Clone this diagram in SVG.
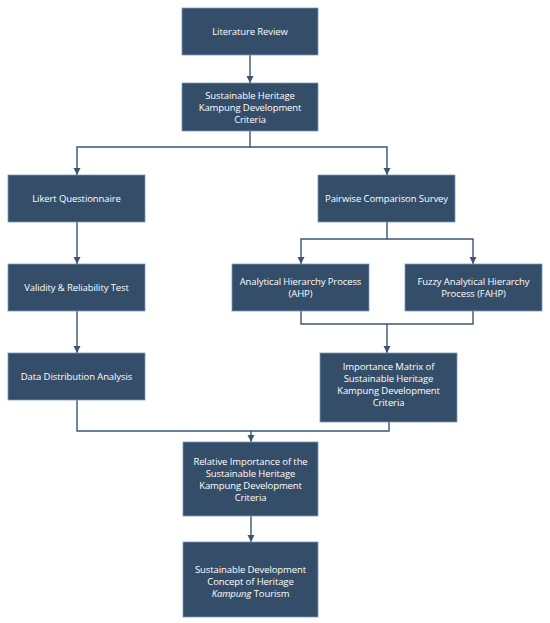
<svg xmlns="http://www.w3.org/2000/svg" width="550" height="623" viewBox="0 0 550 623">
<defs>
<style>
.box{fill:#344d68;stroke:#7b99bd;stroke-width:0.8}
.t{fill:#ffffff;font-family:"Open Sans","Noto Sans","DejaVu Sans",sans-serif;font-size:9.5px;text-anchor:middle;letter-spacing:-0.1px}
.c{fill:none;stroke:#3d5572;stroke-width:1.4}
</style>
<marker id="ah" viewBox="0 0 10 10" refX="10" refY="5" markerWidth="7.5" markerHeight="7.5" markerUnits="userSpaceOnUse" orient="auto">
<path d="M0,0 L10,5 L0,10 z" fill="#3d5572"/>
</marker>
</defs>
<rect width="550" height="623" fill="#ffffff"/>
<g id="connectors">
<line class="c" x1="250" y1="55" x2="250" y2="83" marker-end="url(#ah)"/>
<polyline class="c" points="250,131 250,147 77,147 77,175" marker-end="url(#ah)"/>
<polyline class="c" points="250,147 387,147 387,175" marker-end="url(#ah)"/>
<line class="c" x1="77" y1="222" x2="77" y2="264" marker-end="url(#ah)"/>
<line class="c" x1="77" y1="311" x2="77" y2="353" marker-end="url(#ah)"/>
<polyline class="c" points="387,222 387,239 301,239 301,264" marker-end="url(#ah)"/>
<polyline class="c" points="387,239 473,239 473,264" marker-end="url(#ah)"/>
<polyline class="c" points="301,311 301,324 473,324 473,311"/>
<line class="c" x1="387" y1="324" x2="387" y2="353" marker-end="url(#ah)"/>
<polyline class="c" points="77,400 77,431 389,431 389,422"/>
<line class="c" x1="251" y1="431" x2="251" y2="442" marker-end="url(#ah)"/>
<line class="c" x1="251" y1="516" x2="251" y2="542" marker-end="url(#ah)"/>
</g>
<g id="literature-review">
<rect class="box" x="182" y="8" width="136" height="47"/>
<text class="t" x="250" y="35">Literature Review</text>
</g>
<g id="criteria">
<rect class="box" x="182" y="83" width="136" height="48"/>
<text class="t" x="250" y="98.5">Sustainable Heritage</text>
<text class="t" x="250" y="110.5">Kampung Development</text>
<text class="t" x="250" y="122.5">Criteria</text>
</g>
<g id="likert">
<rect class="box" x="8" y="175" width="137" height="47"/>
<text class="t" x="76.5" y="202">Likert Questionnaire</text>
</g>
<g id="pairwise">
<rect class="box" x="318" y="175" width="137" height="47"/>
<text class="t" x="386.5" y="202">Pairwise Comparison Survey</text>
</g>
<g id="validity">
<rect class="box" x="8" y="264" width="137" height="47"/>
<text class="t" x="76.5" y="291">Validity &amp; Reliability Test</text>
</g>
<g id="ahp">
<rect class="box" x="232" y="264" width="137" height="47"/>
<text class="t" x="300.5" y="285">Analytical Hierarchy Process</text>
<text class="t" x="300.5" y="297">(AHP)</text>
</g>
<g id="fahp">
<rect class="box" x="405" y="264" width="137" height="47"/>
<text class="t" x="473.5" y="285">Fuzzy Analytical Hierarchy</text>
<text class="t" x="473.5" y="297">Process (FAHP)</text>
</g>
<g id="distribution">
<rect class="box" x="8" y="353" width="137" height="47"/>
<text class="t" x="76.5" y="380">Data Distribution Analysis</text>
</g>
<g id="matrix">
<rect class="box" x="320" y="353" width="137" height="69"/>
<text class="t" x="388.5" y="369.5">Importance Matrix of</text>
<text class="t" x="388.5" y="381.5">Sustainable Heritage</text>
<text class="t" x="388.5" y="393.5">Kampung Development</text>
<text class="t" x="388.5" y="405.5">Criteria</text>
</g>
<g id="relative">
<rect class="box" x="183" y="442" width="135" height="74"/>
<text class="t" x="250.5" y="464.5">Relative Importance of the</text>
<text class="t" x="250.5" y="476.5">Sustainable Heritage</text>
<text class="t" x="250.5" y="488.5">Kampung Development</text>
<text class="t" x="250.5" y="500.5">Criteria</text>
</g>
<g id="concept">
<rect class="box" x="183" y="542" width="135" height="75"/>
<text class="t" x="250.5" y="572.5">Sustainable Development</text>
<text class="t" x="250.5" y="584.5">Concept of Heritage</text>
<text class="t" x="250.5" y="596.5"><tspan font-style="italic">Kampung</tspan> Tourism</text>
</g>
</svg>
